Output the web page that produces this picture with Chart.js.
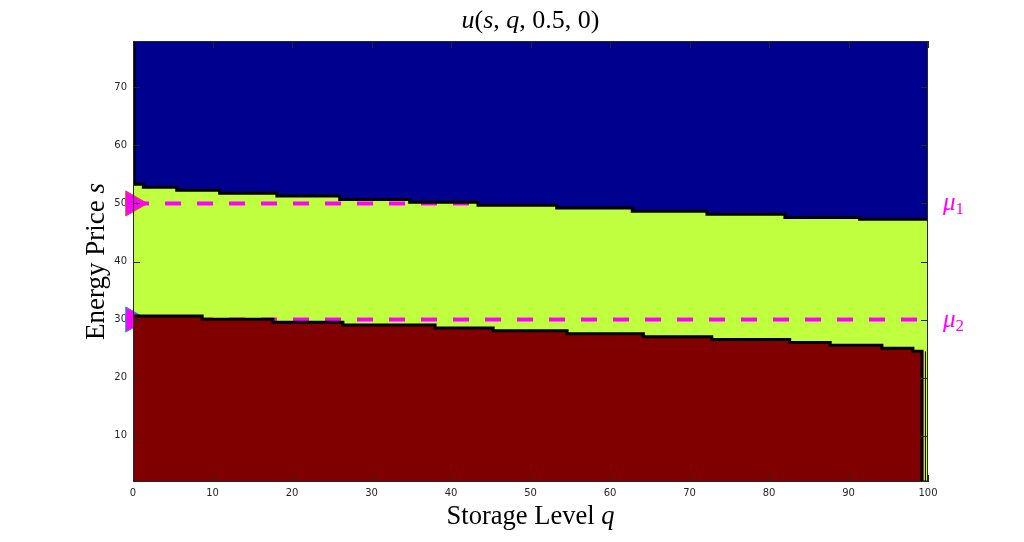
<!DOCTYPE html>
<html>
<head>
<meta charset="utf-8">
<script src="https://cdn.jsdelivr.net/npm/chart.js@4/dist/chart.umd.min.js"></script>
<style>
  html, body { margin: 0; padding: 0; background: #fff; }
  #wrap { width: 1024px; height: 542px; position: relative; }
</style>
</head>
<body>
<div id="wrap"><canvas id="uChart"></canvas></div>
<script>
// level boundaries: each point starts a new step
const upperQ = [0.15, 0.15, 1.3, 5.5, 10.9, 18.1, 26.0, 34.8, 43.4, 53.3, 62.8, 72.2, 82.0, 91.4, 100];
const upperS = [78, 53.3, 52.8, 52.3, 51.75, 51.3, 50.7, 50.2, 49.7, 49.2, 48.65, 48.15, 47.6, 47.3, 47.3];
const lowerQ = [0, 8.7, 17.6, 26.4, 38.0, 45.3, 54.6, 64.2, 72.8, 82.6, 87.7, 94.2, 98.1, 99.25, 100];
const lowerS = [30.6, 30.05, 29.55, 29.05, 28.55, 28.05, 27.55, 27.05, 26.55, 26.05, 25.55, 25.05, 24.55, 2, 2];

// thin edge columns (q, s from, s to)
const edgeCyan = [0.4, 53.5, 78];
const edgeYellow = [99.45, 2, 24.5];
const edgeBlack = [99.68, 2, 24.5];

// mean levels
const muLabels = ['1', '2'];
const muValues = [50, 30];

const xTicks = [0, 10, 20, 30, 40, 50, 60, 70, 80, 90, 100];
const yTicks = [10, 20, 30, 40, 50, 60, 70];
const xMin = 0, xMax = 100, yMin = 2, yMax = 78;

const BLUE = '#00008f', GREEN = '#bfff40', RED = '#800000', MAG = '#ff00ff';

const pts = (xs, ys) => xs.map((x, i) => ({ x, y: ys[i] }));
const vline = e => [{ x: e[0], y: e[1] }, { x: e[0], y: e[2] }];

const datasets = [
  { data: pts(upperQ, upperS), stepped: 'before', borderColor: '#000', borderWidth: 3,
    backgroundColor: BLUE, fill: 'end', pointRadius: 0 },
  { data: pts(lowerQ, lowerS), stepped: 'before', borderColor: '#000', borderWidth: 3,
    backgroundColor: RED, fill: 'start', pointRadius: 0 },
  { data: vline(edgeCyan), borderColor: '#19b4e6', borderWidth: 1, pointRadius: 0, fill: false },
  { data: vline(edgeYellow), borderColor: '#ffc400', borderWidth: 2, pointRadius: 0, fill: false },
  { data: vline(edgeBlack), borderColor: '#000', borderWidth: 1, pointRadius: 0, fill: false }
];
muValues.forEach(v => {
  datasets.push({ data: [{ x: xMin, y: v }, { x: xMax, y: v }], borderColor: MAG, borderWidth: 4,
    borderDash: [16, 16], pointRadius: 0, fill: false });
});
muValues.forEach((v, i) => {
  datasets.push({ data: [{ x: xMin, y: v }], showLine: false, pointStyle: 'triangle', rotation: 90,
    pointRadius: 14.5, pointBackgroundColor: MAG, pointBorderColor: i === 0 ? '#d95319' : '#0a9ad8',
    pointBorderWidth: 1, clip: false });
});

function drawRuns(ctx, runs, x, y, size, align) {
  const font = (it, sz) => `${it ? 'italic ' : ''}${sz}px "Liberation Serif", "DejaVu Serif", serif`;
  let w = 0;
  runs.forEach(r => { ctx.font = font(r.i, r.sz || size); w += ctx.measureText(r.t).width; });
  let cx = align === 'center' ? x - w / 2 : x;
  runs.forEach(r => {
    ctx.font = font(r.i, r.sz || size);
    ctx.fillText(r.t, cx, y + (r.dy || 0));
    cx += ctx.measureText(r.t).width;
  });
}

const framePlugin = {
  id: 'frame',
  beforeDatasetsDraw(chart) {
    const { ctx, chartArea: a } = chart;
    ctx.save();
    ctx.fillStyle = GREEN;
    ctx.fillRect(a.left, a.top, a.right - a.left, a.bottom - a.top);
    ctx.restore();
  },
  afterDatasetsDraw(chart) {
    const { ctx, chartArea: a, scales } = chart;
    const L = 7;
    ctx.save();
    ctx.strokeStyle = '#262626';
    ctx.lineWidth = 1;
    ctx.beginPath();
    xTicks.forEach(v => {
      const p = Math.round(scales.x.getPixelForValue(v)) + 0.5;
      ctx.moveTo(p, a.bottom); ctx.lineTo(p, a.bottom - L);
      ctx.moveTo(p, a.top); ctx.lineTo(p, a.top + L);
    });
    yTicks.forEach(v => {
      const p = Math.round(scales.y.getPixelForValue(v)) + 0.5;
      ctx.moveTo(a.left, p); ctx.lineTo(a.left + L, p);
      ctx.moveTo(a.right, p); ctx.lineTo(a.right - L, p);
    });
    ctx.stroke();
    ctx.strokeRect(Math.round(a.left) + 0.5, Math.round(a.top) + 0.5,
      Math.round(a.right - a.left) - 1, Math.round(a.bottom - a.top) - 1);
    ctx.restore();
  },
  afterDraw(chart) {
    const { ctx, chartArea: a, scales } = chart;
    const cx = (a.left + a.right) / 2;
    ctx.save();
    ctx.fillStyle = '#000';
    ctx.textBaseline = 'alphabetic';
    drawRuns(ctx, [{ t: 'u', i: true }, { t: '(' }, { t: 's', i: true }, { t: ', ' },
      { t: 'q', i: true }, { t: ', 0.5, 0)' }], cx, 28, 26, 'center');
    drawRuns(ctx, [{ t: 'Storage Level ' }, { t: 'q', i: true }], cx, 524, 26.5, 'center');
    ctx.save();
    ctx.translate(104, (a.top + a.bottom) / 2);
    ctx.rotate(-Math.PI / 2);
    drawRuns(ctx, [{ t: 'Energy Price ' }, { t: 's', i: true }], 0, 0, 27, 'center');
    ctx.restore();
    ctx.fillStyle = MAG;
    muValues.forEach((v, i) => {
      const py = scales.y.getPixelForValue(v);
      drawRuns(ctx, [{ t: 'μ', i: true }, { t: muLabels[i], sz: 17, dy: 4 }], a.right + 15, py + 7, 25, 'left');
    });
    ctx.restore();
  }
};

new Chart(document.getElementById('uChart').getContext('2d'), {
  type: 'line',
  data: { datasets },
  plugins: [framePlugin],
  options: {
    responsive: true,
    maintainAspectRatio: false,
    animation: false,
    layout: { padding: { top: 41, right: 96, left: 0, bottom: 0 } },
    plugins: { legend: { display: false }, tooltip: { enabled: false }, title: { display: false } },
    scales: {
      x: {
        type: 'linear', min: xMin, max: xMax,
        grid: { display: false, drawTicks: false, tickLength: 0 }, border: { display: false },
        afterBuildTicks: s => { s.ticks = xTicks.map(v => ({ value: v })); },
        afterFit: s => { s.height = 60; },
        ticks: { color: '#262626', padding: 5, maxRotation: 0, autoSkip: false,
          font: { family: '"DejaVu Sans", sans-serif', size: 10 } }
      },
      y: {
        type: 'linear', min: yMin, max: yMax,
        grid: { display: false, drawTicks: false, tickLength: 0 }, border: { display: false },
        afterBuildTicks: s => { s.ticks = yTicks.map(v => ({ value: v })); },
        afterFit: s => { s.width = 133; },
        ticks: { color: '#262626', padding: 6, autoSkip: false,
          font: { family: '"DejaVu Sans", sans-serif', size: 10 } }
      }
    }
  }
});
</script>
</body>
</html>
